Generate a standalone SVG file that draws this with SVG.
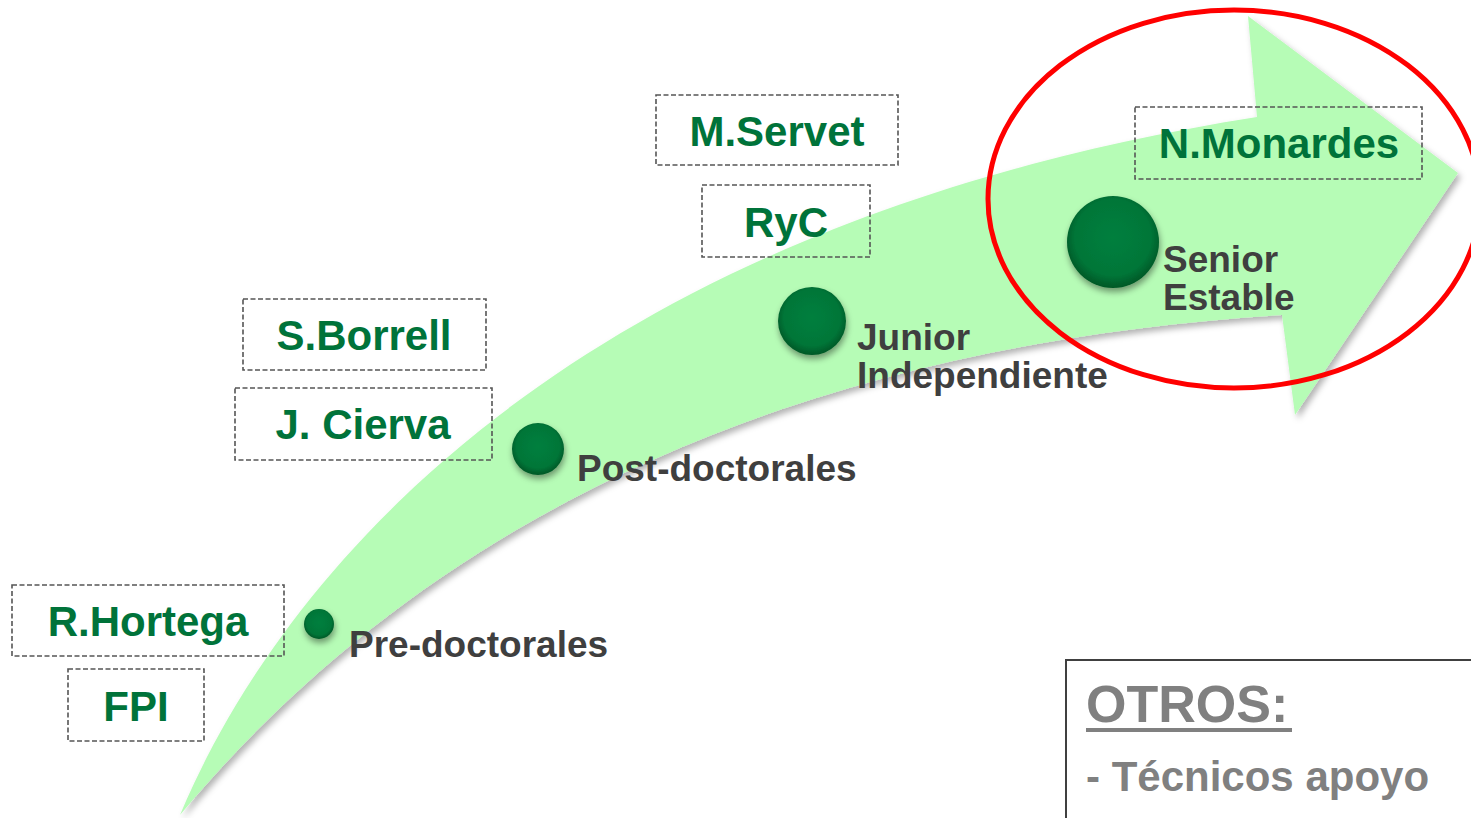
<svg xmlns="http://www.w3.org/2000/svg" width="1471" height="818" viewBox="0 0 1471 818">
<defs>
<filter id="sh" x="-10%" y="-10%" width="130%" height="130%">
<feDropShadow dx="3" dy="4" stdDeviation="3" flood-color="#000" flood-opacity="0.3"/>
</filter>
<filter id="csh" x="-30%" y="-30%" width="160%" height="170%">
<feDropShadow dx="1" dy="4" stdDeviation="3" flood-color="#000" flood-opacity="0.4"/>
</filter>
<radialGradient id="ball" cx="50%" cy="45%" r="55%">
<stop offset="0" stop-color="#047f3e"/>
<stop offset="0.75" stop-color="#007638"/>
<stop offset="1" stop-color="#005726"/>
</radialGradient>
</defs>
<style>
.box{fill:none;stroke:#555;stroke-width:1.6;stroke-dasharray:5 2.5}
.bt{font-family:"Liberation Sans",Arial,sans-serif;font-weight:bold;font-size:42px;fill:#00733a;text-anchor:middle}
.lb{font-family:"Liberation Sans",Arial,sans-serif;font-weight:bold;font-size:37px;fill:#3f3f3f}
.ball{fill:url(#ball);filter:url(#csh)}
.ot{font-family:"Liberation Sans",Arial,sans-serif;font-weight:bold;fill:#808080}
</style>
<rect width="1471" height="818" fill="#fff"/>
<g id="arrow">
<path d="M180,815 C270,600 540,230 1257,117 L1248,16 L1458,173 L1295,415 L1282,315 C800,345 430,515 180,815 Z" fill="#b6fcb6" filter="url(#sh)"/>
</g>
<g id="highlight">
<ellipse cx="1234" cy="199" rx="246" ry="189" fill="none" stroke="#ff0000" stroke-width="5"/>
</g>
<g id="node-pre">
<circle class="ball" cx="319" cy="624" r="15"/>
<text class="lb" x="349" y="657">Pre-doctorales</text>
</g>
<g id="node-post">
<circle class="ball" cx="538" cy="449" r="26"/>
<text class="lb" x="577" y="481">Post-doctorales</text>
</g>
<g id="node-junior">
<circle class="ball" cx="812" cy="321" r="34"/>
<text class="lb" x="857" y="350">Junior</text>
<text class="lb" x="857" y="388">Independiente</text>
</g>
<g id="node-senior">
<circle class="ball" cx="1113" cy="242" r="46"/>
<text class="lb" x="1163" y="272">Senior</text>
<text class="lb" x="1163" y="310">Estable</text>
</g>
<g id="box-rhortega">
<rect class="box" x="12" y="585" width="272" height="71"/>
<text class="bt" x="148" y="636">R.Hortega</text>
</g>
<g id="box-fpi">
<rect class="box" x="68" y="669" width="136" height="72"/>
<text class="bt" x="136" y="721">FPI</text>
</g>
<g id="box-sborrell">
<rect class="box" x="243" y="299" width="243" height="71"/>
<text class="bt" x="364" y="350">S.Borrell</text>
</g>
<g id="box-jcierva">
<rect class="box" x="235" y="388" width="257" height="72"/>
<text class="bt" x="363" y="439">J. Cierva</text>
</g>
<g id="box-mservet">
<rect class="box" x="656" y="95" width="242" height="70"/>
<text class="bt" x="777" y="146">M.Servet</text>
</g>
<g id="box-ryc">
<rect class="box" x="702" y="185" width="168" height="72"/>
<text class="bt" x="786" y="237">RyC</text>
</g>
<g id="box-nmonardes">
<rect class="box" x="1135" y="107" width="287" height="72"/>
<text class="bt" x="1279" y="158">N.Monardes</text>
</g>
<g id="otros">
<rect x="1066" y="660" width="420" height="180" fill="#fff" stroke="#404040" stroke-width="2"/>
<text class="ot" x="1086" y="722" font-size="52">OTROS:</text>
<line x1="1086" y1="730" x2="1292" y2="730" stroke="#808080" stroke-width="4"/>
<text class="ot" x="1086" y="791" font-size="42">- Técnicos apoyo</text>
</g>
</svg>
